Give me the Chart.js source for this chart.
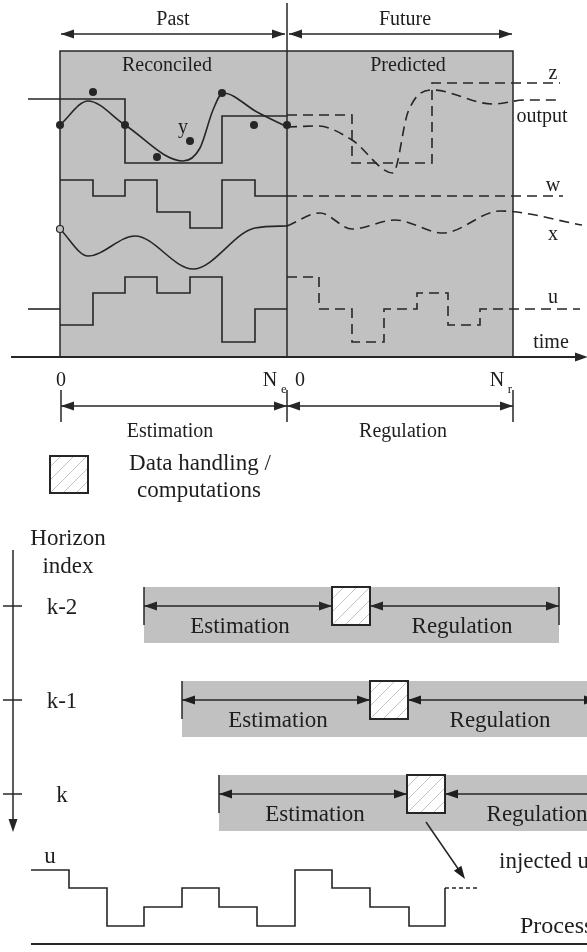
<!DOCTYPE html>
<html lang="en">
<head>
<meta charset="UTF-8">
<script src="https://cdn.jsdelivr.net/npm/chart.js@4.4.1/dist/chart.umd.min.js"></script>
<title>Moving horizon estimation and regulation</title>
<style>
    body { margin: 0; background: #fff; }
    #wrap { position: relative; width: 587px; height: 952px; }
</style>
</head>
<body>
<div id="wrap"><canvas id="myChart"></canvas></div>
<script>
// all values in diagram units: x along time (0..587), y downward (0..952)
var zPast = [[28, 99], [125, 163], [222, 116], [287, 116]];
var zFuture = [[287, 115], [352, 163], [432, 83], [560, 83]];
var outPast = [[60, 125], [88, 101], [125, 125], [183, 161], [200, 148], [213, 110], [223, 93], [257, 112], [287, 127]];
var outFuture = [[287, 127], [318, 126], [352, 140], [393, 173], [408, 112], [432, 90], [493, 104], [525, 100], [557, 100]];
var yMeas = [[60, 125], [93, 92], [125, 125], [157, 157], [190, 141], [222, 93], [254, 125], [287, 125]];
var wPast = [[60, 180], [93, 196], [125, 180], [157, 212], [190, 228], [222, 180], [255, 196], [287, 196]];
var wFuture = [[287, 196], [563, 196]];
var xPast = [[60, 229], [88, 256], [135, 236], [193, 269], [255, 228], [287, 226]];
var xFuture = [[287, 226], [320, 213], [352, 229], [395, 220], [443, 233], [500, 211], [582, 225]];
var xInit = [[60, 229]];
var uBefore = [[28, 309], [60, 309]];
var uPast = [[60, 325], [93, 293], [125, 277], [157, 293], [190, 277], [222, 342], [255, 309], [287, 309]];
var uFuture = [[287, 277], [319, 309], [352, 342], [384, 309], [417, 293], [448, 325], [480, 309], [580, 309]];
var uInjected = [[31, 870], [69, 888], [107, 926], [144, 907], [182, 888], [219, 907], [257, 926], [295, 870], [332, 888], [370, 907], [409, 926], [445, 888]];
var uNext = [[445, 888], [480, 888]];

// horizon rows
var horizonLabels = ['k-2', 'k-1', 'k'];
var horizonRows = [606, 700, 794];
var horizonStarts = [144, 182, 219];

// time marks under the window
var timeMarks = [61, 287, 513];

var INK = '#262626';
var GRAY = '#c1c1c1';
var SERIF = '"Liberation Serif", "DejaVu Serif", serif';

function pts(a) {
    return a.map(function (p) { return { x: p[0], y: p[1] }; });
}

function trace(a, extra) {
    var ds = {
        data: pts(a),
        showLine: true,
        pointRadius: 0,
        borderColor: INK,
        borderWidth: 1.6,
        fill: false
    };
    return Object.assign(ds, extra || {});
}

var dashed = [10, 6];

var datasets = [
    { data: pts(yMeas), showLine: false, pointRadius: 4, pointBackgroundColor: INK, pointBorderWidth: 0 },
    { data: pts(xInit), showLine: false, pointRadius: 3.5, pointBackgroundColor: GRAY, pointBorderColor: INK, pointBorderWidth: 1.2 },
    trace(zPast, { stepped: 'before' }),
    trace(zFuture, { stepped: 'before', borderDash: dashed }),
    trace(outPast, { cubicInterpolationMode: 'monotone' }),
    trace(outFuture, { cubicInterpolationMode: 'monotone', borderDash: dashed }),
    trace(wPast, { stepped: 'before' }),
    trace(wFuture, { borderDash: dashed }),
    trace(xPast, { cubicInterpolationMode: 'monotone' }),
    trace(xFuture, { cubicInterpolationMode: 'monotone', borderDash: dashed }),
    trace(uBefore),
    trace(uPast, { stepped: 'before' }),
    trace(uFuture, { stepped: 'before', borderDash: dashed }),
    trace(uInjected, { stepped: 'before' }),
    trace(uNext, { borderDash: [4, 3], borderWidth: 1.3 })
];

var diagram = {
    id: 'diagram',
    beforeDatasetsDraw: function (chart) {
        var ctx = chart.ctx, sx = chart.scales.x, sy = chart.scales.y;
        var X = function (v) { return sx.getPixelForValue(v); };
        var Y = function (v) { return sy.getPixelForValue(v); };
        ctx.save();
        // estimation / prediction window
        ctx.fillStyle = GRAY;
        ctx.fillRect(X(60), Y(51), X(513) - X(60), Y(357) - Y(51));
        ctx.strokeStyle = INK;
        ctx.lineWidth = 1.5;
        ctx.strokeRect(X(60), Y(51), X(513) - X(60), Y(357) - Y(51));
        // horizon bars
        horizonRows.forEach(function (row, i) {
            var s = horizonStarts[i];
            ctx.fillStyle = GRAY;
            ctx.fillRect(X(s), Y(row - 19), X(s + 415) - X(s), Y(row + 37) - Y(row - 19));
        });
        ctx.restore();
    },
    afterDatasetsDraw: function (chart) {
        var ctx = chart.ctx, sx = chart.scales.x, sy = chart.scales.y;
        var X = function (v) { return sx.getPixelForValue(v); };
        var Y = function (v) { return sy.getPixelForValue(v); };
        ctx.save();
        ctx.strokeStyle = INK;
        ctx.fillStyle = INK;
        ctx.lineWidth = 1.5;

        function seg(x1, y1, x2, y2, w) {
            ctx.lineWidth = w || 1.5;
            ctx.beginPath();
            ctx.moveTo(X(x1), Y(y1));
            ctx.lineTo(X(x2), Y(y2));
            ctx.stroke();
        }
        function head(xt, yt, xf, yf) {
            var a = Math.atan2(Y(yt) - Y(yf), X(xt) - X(xf));
            var L = 13, W = 4.5;
            ctx.beginPath();
            ctx.moveTo(X(xt), Y(yt));
            ctx.lineTo(X(xt) - L * Math.cos(a) + W * Math.sin(a), Y(yt) - L * Math.sin(a) - W * Math.cos(a));
            ctx.lineTo(X(xt) - L * Math.cos(a) - W * Math.sin(a), Y(yt) - L * Math.sin(a) + W * Math.cos(a));
            ctx.closePath();
            ctx.fill();
        }
        function span(x1, x2, y) {
            seg(x1, y, x2, y);
            head(x1, y, x2, y);
            head(x2, y, x1, y);
        }
        function hatchBox(x1, y1, x2, y2) {
            ctx.save();
            ctx.fillStyle = '#ffffff';
            ctx.fillRect(X(x1), Y(y1), X(x2) - X(x1), Y(y2) - Y(y1));
            ctx.beginPath();
            ctx.rect(X(x1), Y(y1), X(x2) - X(x1), Y(y2) - Y(y1));
            ctx.clip();
            ctx.strokeStyle = '#c4c4c4';
            ctx.lineWidth = 1;
            for (var k = -2; k < 5; k++) {
                var o = k * 13;
                ctx.beginPath();
                ctx.moveTo(X(x1 + o), Y(y2));
                ctx.lineTo(X(x1 + o + (y2 - y1)), Y(y1));
                ctx.stroke();
            }
            ctx.restore();
            ctx.strokeStyle = INK;
            ctx.lineWidth = 2;
            ctx.strokeRect(X(x1), Y(y1), X(x2) - X(x1), Y(y2) - Y(y1));
        }
        function text(t, x, y, size, align) {
            ctx.font = size + 'px ' + SERIF;
            ctx.textAlign = align || 'center';
            ctx.textBaseline = 'middle';
            ctx.fillStyle = '#1e1e1e';
            ctx.fillText(t, X(x), Y(y + 2));
        }

        // top part: split line, time axis, spans
        seg(287, 3, 287, 357);
        seg(11, 357, 580, 357, 1.8);
        head(588, 357, 570, 357);
        span(61, 285, 34);
        span(289, 512, 34);
        timeMarks.forEach(function (m) { seg(m, 390, m, 422); });
        span(61, 287, 406);
        span(287, 513, 406);

        // horizon axis
        seg(13, 550, 13, 820);
        head(13, 832, 13, 815);
        horizonRows.forEach(function (row, i) {
            var s = horizonStarts[i];
            seg(3, row, 22, row);
            seg(s, row - 19, s, row + 19);
            span(s, s + 188, row);
            span(s + 226, s + 415, row);
            if (i === 0) seg(s + 415, row - 19, s + 415, row + 19);
            hatchBox(s + 188, row - 19, s + 226, row + 19);
            text('Estimation', s + 96, row + 19, 23);
            text('Regulation', s + 318, row + 19, 23);
            text(horizonLabels[i], 62, row, 23);
        });

        // injected input arrow
        seg(426, 822, 461, 873);
        head(465, 879, 426, 822);
        // process baseline
        seg(31, 944, 587, 944, 2);

        // legend box
        hatchBox(50, 456, 88, 493);

        // labels
        text('Past', 173, 18, 20);
        text('Future', 405, 18, 20);
        text('Reconciled', 167, 64, 20);
        text('Predicted', 408, 64, 20);
        text('z', 553, 72, 20);
        text('output', 542, 115, 20);
        text('y', 183, 126, 20);
        text('w', 553, 184, 20);
        text('x', 553, 233, 20);
        text('u', 553, 296, 20);
        text('time', 551, 341, 20);
        text('0', 61, 379, 20);
        text('N', 270, 379, 20);
        text('e', 284, 388, 13);
        text('0', 300, 379, 20);
        text('N', 497, 379, 20);
        text('r', 510, 388, 13);
        text('Estimation', 170, 430, 20);
        text('Regulation', 403, 430, 20);
        text('Data handling /', 200, 462, 23);
        text('computations', 199, 489, 23);
        text('Horizon', 68, 537, 23);
        text('index', 68, 565, 23);
        text('u', 50, 855, 23);
        text('injected u', 499, 860, 23, 'left');
        text('Process', 520, 925, 24, 'left');
        ctx.restore();
    }
};

var ctx = document.getElementById('myChart').getContext('2d');
var chart = new Chart(ctx, {
    type: 'scatter',
    data: { datasets: datasets },
    options: {
        responsive: true,
        maintainAspectRatio: false,
        animation: false,
        layout: { padding: 0, autoPadding: false },
        plugins: { legend: { display: false }, tooltip: { enabled: false } },
        scales: {
            x: { type: 'linear', min: 0, max: 587, display: false },
            y: { type: 'linear', min: 0, max: 952, reverse: true, display: false }
        }
    },
    plugins: [diagram]
});
</script>
</body>
</html>
